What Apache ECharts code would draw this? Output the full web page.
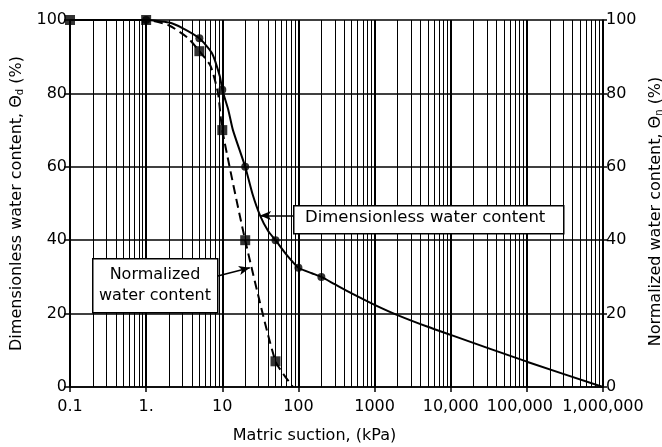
<!DOCTYPE html>
<html>
<head>
<meta charset="utf-8">
<script src="https://cdn.jsdelivr.net/npm/echarts@6/dist/echarts.min.js"></script>
<style>
  html, body { margin: 0; padding: 0; background: #fff; }
  #chart { width: 662px; height: 447px; }
</style>
</head>
<body>
<div id="chart"></div>
<script>
// measured points (kPa, %)
const dimPoints = [[1, 100], [5, 95], [10, 81], [20, 60], [50, 40], [100, 32.5], [200, 30]];
const normPoints = [[0.1, 100], [1, 100], [5, 91.5], [10, 70], [20, 40], [50, 7]];

// curves
const dimCurve = [
  [0.1, 100], [1, 100], [2, 99.3], [3, 97.8], [5, 95], [7.3, 91], [9.3, 84.6], [10, 81],
  [12, 75.5], [13.8, 70], [20, 60], [25, 52.5], [31.4, 46.7], [40, 42.5], [50, 40],
  [70, 36], [100, 32.5], [150, 31], [200, 30], [300, 28], [500, 25.5], [1000, 22.4],
  [2000, 19.6], [5000, 16.4], [10000, 14.2], [100000, 6.9], [1000000, 0]
];
const normCurve = [
  [0.1, 100], [1, 100], [2, 98.5], [3.5, 95.2], [5, 91.5], [7, 87.5], [8.8, 80], [10, 70],
  [20, 40], [50, 7], [85, 0]
];

const xTickLabels = ['0.1', '1.', '10', '100', '1000', '10,000', '{l|100,000}', '1,000,000'];

// minor vertical grid lines (2..9 in each decade)
const minorGrid = [];
for (let d = -1; d <= 5; d++) {
  for (let k = 2; k <= 9; k++) {
    minorGrid.push({ xAxis: k * Math.pow(10, d) });
  }
}

const font = 'DejaVu Sans, sans-serif';
const ink = '#000';
const chart = echarts.init(document.getElementById('chart'));

const nameRich = {
  t: { fontFamily: font, fontSize: 16, color: ink, lineHeight: 18 },
  s: { fontFamily: font, fontSize: 10, color: ink, lineHeight: 18, verticalAlign: 'bottom', padding: [6, 0, 0, 0] }
};

chart.setOption({
  animation: false,
  backgroundColor: '#fff',
  grid: { left: 70, right: 59, top: 20, bottom: 60, containLabel: false, outerBoundsMode: 'none' },
  xAxis: {
    type: 'log',
    logBase: 10,
    min: 0.1,
    max: 1000000,
    name: 'Matric suction, (kPa)',
    nameLocation: 'middle',
    nameGap: 41,
    nameTextStyle: { fontFamily: font, fontSize: 16, color: ink, padding: [0, 44, 0, 0] },
    axisLine: { lineStyle: { color: '#000', width: 1.5 } },
    axisTick: { show: true, length: 5, lineStyle: { color: '#000', width: 1.5 } },
    axisLabel: {
      fontFamily: font, fontSize: 16, color: ink, margin: 12,
      formatter: v => xTickLabels[Math.round(Math.log10(v)) + 1],
      rich: { l: { fontFamily: font, fontSize: 16, color: ink, padding: [0, 14, 0, 0] } }
    },
    splitLine: { show: true, lineStyle: { color: '#000', width: 2 } }
  },
  yAxis: [
    {
      type: 'value', min: 0, max: 100, interval: 20, position: 'left',
      name: '{t|Dimensionless water content, Θ}{s|d}{t| (%)}',
      nameLocation: 'middle', nameGap: 43, nameRotate: 90,
      nameTextStyle: { rich: nameRich },
      axisLine: { show: true, lineStyle: { color: '#000', width: 1.5 } },
      axisTick: { show: true, length: 6, lineStyle: { color: '#000', width: 1.5 } },
      axisLabel: { fontFamily: font, fontSize: 16, color: ink, margin: 3 },
      splitLine: { show: true, lineStyle: { color: '#000', width: 1.5 } }
    },
    {
      type: 'value', min: 0, max: 100, interval: 20, position: 'right',
      name: '{t|Normalized water content, Θ}{s|n}{t| (%)}',
      nameLocation: 'middle', nameGap: 33, nameRotate: 90,
      nameTextStyle: { rich: nameRich, padding: [0, 16, 0, 0] },
      axisLine: { show: true, lineStyle: { color: '#000', width: 1.5 } },
      axisTick: { show: true, length: 4, lineStyle: { color: '#000', width: 1.5 } },
      axisLabel: { fontFamily: font, fontSize: 16, color: ink, margin: 3 },
      splitLine: { show: false }
    }
  ],
  series: [
    {
      name: 'grid',
      type: 'line',
      data: [],
      silent: true,
      z: 1,
      markLine: {
        silent: true,
        symbol: 'none',
        label: { show: false },
        lineStyle: { color: '#000', width: 1, type: 'solid' },
        data: minorGrid
      }
    },
    {
      name: 'Normalized curve',
      type: 'line',
      data: normCurve,
      smooth: 0.2,
      showSymbol: false,
      lineStyle: { color: '#000', width: 2, type: [9, 5] },
      z: 3,
      markLine: {
        silent: true,
        symbol: ['none', 'arrow'],
        symbolSize: [7, 11],
        label: { show: false },
        lineStyle: { color: '#000', width: 1.5, type: 'solid' },
        data: [[{ coord: [6.9, 29.7] }, { coord: [23, 32.5] }]]
      }
    },
    {
      name: 'Dimensionless curve',
      type: 'line',
      data: dimCurve,
      smooth: 0.2,
      showSymbol: false,
      lineStyle: { color: '#000', width: 2 },
      z: 3,
      markLine: {
        silent: true,
        symbol: ['none', 'arrow'],
        symbolSize: [7, 11],
        label: { show: false },
        lineStyle: { color: '#000', width: 1.5, type: 'solid' },
        data: [[{ coord: [85, 46.7] }, { coord: [31.4, 46.7] }]]
      }
    },
    {
      name: 'Normalized water content',
      type: 'scatter',
      data: normPoints,
      symbol: 'rect',
      symbolSize: 10,
      itemStyle: { color: '#000' },
      z: 4
    },
    {
      name: 'Dimensionless water content',
      type: 'scatter',
      data: dimPoints,
      symbol: 'circle',
      symbolSize: 8,
      itemStyle: { color: '#000' },
      z: 5
    }
  ],
  graphic: [
    {
      type: 'rect', left: 293, top: 205, z: 100,
      shape: { width: 270, height: 28 },
      style: { fill: '#fff', stroke: '#000', lineWidth: 1.5 }
    },
    {
      type: 'text', left: 305, top: 209, z: 101,
      style: { text: 'Dimensionless water content', fontFamily: font, fontSize: 16.5, fill: ink }
    },
    {
      type: 'rect', left: 92, top: 258, z: 100,
      shape: { width: 125, height: 54 },
      style: { fill: '#fff', stroke: '#000', lineWidth: 1.5 }
    },
    {
      type: 'text', x: 155, y: 264, z: 101,
      style: {
        text: 'Normalized\nwater content', fontFamily: font, fontSize: 16, lineHeight: 21,
        fill: ink, align: 'center', verticalAlign: 'top'
      }
    }
  ]
});
</script>
</body>
</html>
